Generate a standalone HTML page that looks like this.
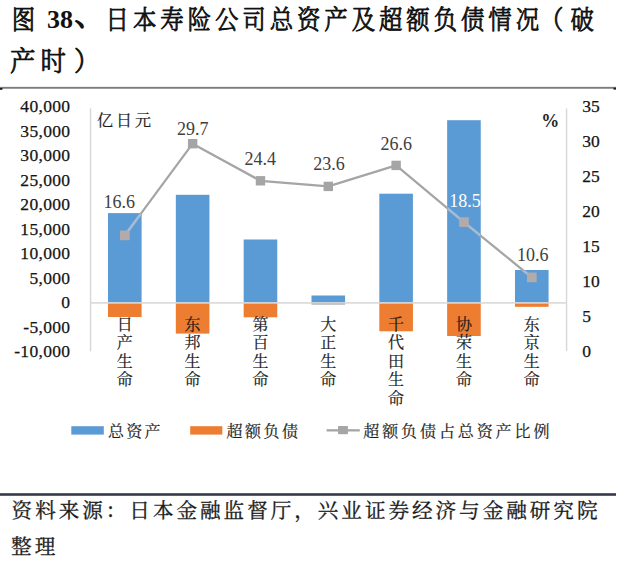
<!DOCTYPE html>
<html><head><meta charset="utf-8"><style>
html,body{margin:0;padding:0;background:#fff;}
body{width:640px;height:562px;overflow:hidden;position:relative;}
svg{position:absolute;left:0;top:0;}
</style></head><body>
<svg width="640" height="562" viewBox="0 0 640 562">
<text transform="translate(23.40,28.60) scale(0.9,1)" text-anchor="middle" font-size="26px" font-weight="300" fill="#111" stroke="#111" stroke-width="0.9" stroke-linejoin="round" style='font-family:"Liberation Serif","Noto Serif CJK SC",serif'>图</text>
<text transform="translate(117.30,28.60) scale(0.9,1)" text-anchor="middle" font-size="26px" font-weight="300" fill="#111" stroke="#111" stroke-width="0.9" stroke-linejoin="round" style='font-family:"Liberation Serif","Noto Serif CJK SC",serif'>日</text>
<text transform="translate(144.64,28.60) scale(0.9,1)" text-anchor="middle" font-size="26px" font-weight="300" fill="#111" stroke="#111" stroke-width="0.9" stroke-linejoin="round" style='font-family:"Liberation Serif","Noto Serif CJK SC",serif'>本</text>
<text transform="translate(171.98,28.60) scale(0.9,1)" text-anchor="middle" font-size="26px" font-weight="300" fill="#111" stroke="#111" stroke-width="0.9" stroke-linejoin="round" style='font-family:"Liberation Serif","Noto Serif CJK SC",serif'>寿</text>
<text transform="translate(199.32,28.60) scale(0.9,1)" text-anchor="middle" font-size="26px" font-weight="300" fill="#111" stroke="#111" stroke-width="0.9" stroke-linejoin="round" style='font-family:"Liberation Serif","Noto Serif CJK SC",serif'>险</text>
<text transform="translate(226.66,28.60) scale(0.9,1)" text-anchor="middle" font-size="26px" font-weight="300" fill="#111" stroke="#111" stroke-width="0.9" stroke-linejoin="round" style='font-family:"Liberation Serif","Noto Serif CJK SC",serif'>公</text>
<text transform="translate(254.00,28.60) scale(0.9,1)" text-anchor="middle" font-size="26px" font-weight="300" fill="#111" stroke="#111" stroke-width="0.9" stroke-linejoin="round" style='font-family:"Liberation Serif","Noto Serif CJK SC",serif'>司</text>
<text transform="translate(281.34,28.60) scale(0.9,1)" text-anchor="middle" font-size="26px" font-weight="300" fill="#111" stroke="#111" stroke-width="0.9" stroke-linejoin="round" style='font-family:"Liberation Serif","Noto Serif CJK SC",serif'>总</text>
<text transform="translate(308.68,28.60) scale(0.9,1)" text-anchor="middle" font-size="26px" font-weight="300" fill="#111" stroke="#111" stroke-width="0.9" stroke-linejoin="round" style='font-family:"Liberation Serif","Noto Serif CJK SC",serif'>资</text>
<text transform="translate(336.02,28.60) scale(0.9,1)" text-anchor="middle" font-size="26px" font-weight="300" fill="#111" stroke="#111" stroke-width="0.9" stroke-linejoin="round" style='font-family:"Liberation Serif","Noto Serif CJK SC",serif'>产</text>
<text transform="translate(363.36,28.60) scale(0.9,1)" text-anchor="middle" font-size="26px" font-weight="300" fill="#111" stroke="#111" stroke-width="0.9" stroke-linejoin="round" style='font-family:"Liberation Serif","Noto Serif CJK SC",serif'>及</text>
<text transform="translate(390.70,28.60) scale(0.9,1)" text-anchor="middle" font-size="26px" font-weight="300" fill="#111" stroke="#111" stroke-width="0.9" stroke-linejoin="round" style='font-family:"Liberation Serif","Noto Serif CJK SC",serif'>超</text>
<text transform="translate(418.04,28.60) scale(0.9,1)" text-anchor="middle" font-size="26px" font-weight="300" fill="#111" stroke="#111" stroke-width="0.9" stroke-linejoin="round" style='font-family:"Liberation Serif","Noto Serif CJK SC",serif'>额</text>
<text transform="translate(445.38,28.60) scale(0.9,1)" text-anchor="middle" font-size="26px" font-weight="300" fill="#111" stroke="#111" stroke-width="0.9" stroke-linejoin="round" style='font-family:"Liberation Serif","Noto Serif CJK SC",serif'>负</text>
<text transform="translate(472.72,28.60) scale(0.9,1)" text-anchor="middle" font-size="26px" font-weight="300" fill="#111" stroke="#111" stroke-width="0.9" stroke-linejoin="round" style='font-family:"Liberation Serif","Noto Serif CJK SC",serif'>债</text>
<text transform="translate(500.06,28.60) scale(0.9,1)" text-anchor="middle" font-size="26px" font-weight="300" fill="#111" stroke="#111" stroke-width="0.9" stroke-linejoin="round" style='font-family:"Liberation Serif","Noto Serif CJK SC",serif'>情</text>
<text transform="translate(527.40,28.60) scale(0.9,1)" text-anchor="middle" font-size="26px" font-weight="300" fill="#111" stroke="#111" stroke-width="0.9" stroke-linejoin="round" style='font-family:"Liberation Serif","Noto Serif CJK SC",serif'>况</text>
<text transform="translate(551.70,28.60) scale(0.9,1)" text-anchor="middle" font-size="26px" font-weight="300" fill="#111" stroke="#111" stroke-width="0.9" stroke-linejoin="round" style='font-family:"Liberation Serif","Noto Serif CJK SC",serif'>（</text>
<text transform="translate(582.08,28.60) scale(0.9,1)" text-anchor="middle" font-size="26px" font-weight="300" fill="#111" stroke="#111" stroke-width="0.9" stroke-linejoin="round" style='font-family:"Liberation Serif","Noto Serif CJK SC",serif'>破</text>
<text x="46.9" y="27.6" font-size="26px" font-weight="bold" fill="#111" style='font-family:"Liberation Serif",serif'>38</text>
<text transform="translate(89.60,24.70) scale(1.0,1)" text-anchor="middle" font-size="30px" font-weight="300" fill="#111" stroke="#111" stroke-width="1.4" stroke-linejoin="round" style='font-family:"Liberation Serif","Noto Serif CJK SC",serif'>、</text>
<text transform="translate(22.70,70.80) scale(0.95,1)" text-anchor="middle" font-size="26.8px" font-weight="300" fill="#111" stroke="#111" stroke-width="0.9" stroke-linejoin="round" style='font-family:"Liberation Serif","Noto Serif CJK SC",serif'>产</text>
<text transform="translate(53.30,70.80) scale(0.95,1)" text-anchor="middle" font-size="26.8px" font-weight="300" fill="#111" stroke="#111" stroke-width="0.9" stroke-linejoin="round" style='font-family:"Liberation Serif","Noto Serif CJK SC",serif'>时</text>
<text transform="translate(86.60,70.80) scale(0.95,1)" text-anchor="middle" font-size="26.8px" font-weight="300" fill="#111" stroke="#111" stroke-width="0.9" stroke-linejoin="round" style='font-family:"Liberation Serif","Noto Serif CJK SC",serif'>）</text>
<rect x="108.00" y="213.10" width="33.6" height="89.80" fill="#5B9BD5"/>
<rect x="108.00" y="302.9" width="33.6" height="14.10" fill="#ED7D31"/>
<rect x="175.83" y="194.80" width="33.6" height="108.10" fill="#5B9BD5"/>
<rect x="175.83" y="302.9" width="33.6" height="30.70" fill="#ED7D31"/>
<rect x="243.66" y="239.50" width="33.6" height="63.40" fill="#5B9BD5"/>
<rect x="243.66" y="302.9" width="33.6" height="14.40" fill="#ED7D31"/>
<rect x="311.49" y="295.50" width="33.6" height="7.40" fill="#5B9BD5"/>
<rect x="311.49" y="302.9" width="33.6" height="1.60" fill="#8E9399"/>
<rect x="379.32" y="193.70" width="33.6" height="109.20" fill="#5B9BD5"/>
<rect x="379.32" y="302.9" width="33.6" height="28.40" fill="#ED7D31"/>
<rect x="447.15" y="120.20" width="33.6" height="182.70" fill="#5B9BD5"/>
<rect x="447.15" y="302.9" width="33.6" height="33.10" fill="#ED7D31"/>
<rect x="514.98" y="270.00" width="33.6" height="32.90" fill="#5B9BD5"/>
<rect x="514.98" y="302.9" width="33.6" height="3.90" fill="#ED7D31"/>
<rect x="91" y="302.1" width="475.5" height="1.6" fill="#D9D9D9"/>
<rect x="89.8" y="108.4" width="1.5" height="243" fill="#D9D9D9"/>
<rect x="565.8" y="108.4" width="1.5" height="242.5" fill="#D9D9D9"/>
<polyline points="124.80,235.40 192.63,143.70 260.46,180.80 328.29,186.40 396.12,165.40 463.95,222.10 531.78,277.40" fill="none" stroke="#A5A5A5" stroke-width="2.25" stroke-linejoin="round"/>
<rect x="120.10" y="230.70" width="9.4" height="9.4" fill="#A5A5A5"/>
<rect x="187.93" y="139.00" width="9.4" height="9.4" fill="#A5A5A5"/>
<rect x="255.76" y="176.10" width="9.4" height="9.4" fill="#A5A5A5"/>
<rect x="323.59" y="181.70" width="9.4" height="9.4" fill="#A5A5A5"/>
<rect x="391.42" y="160.70" width="9.4" height="9.4" fill="#A5A5A5"/>
<rect x="459.25" y="217.40" width="9.4" height="9.4" fill="#A5A5A5"/>
<rect x="527.08" y="272.70" width="9.4" height="9.4" fill="#A5A5A5"/>
<clipPath id="bc"><rect x="108.60" y="213.70" width="32.40" height="88.60"/><rect x="176.43" y="195.40" width="32.40" height="106.90"/><rect x="244.26" y="240.10" width="32.40" height="62.20"/><rect x="312.09" y="296.10" width="32.40" height="6.20"/><rect x="379.92" y="194.30" width="32.40" height="108.00"/><rect x="447.75" y="120.80" width="32.40" height="181.50"/><rect x="515.58" y="270.60" width="32.40" height="31.70"/></clipPath>
<g clip-path="url(#bc)">
<polyline points="124.80,235.40 192.63,143.70 260.46,180.80 328.29,186.40 396.12,165.40 463.95,222.10 531.78,277.40" fill="none" stroke="#A6BCD2" stroke-width="2.5" stroke-linejoin="round"/>
<rect x="120.10" y="230.70" width="9.4" height="9.4" fill="#B2ABAC"/>
<rect x="187.93" y="139.00" width="9.4" height="9.4" fill="#B2ABAC"/>
<rect x="255.76" y="176.10" width="9.4" height="9.4" fill="#B2ABAC"/>
<rect x="323.59" y="181.70" width="9.4" height="9.4" fill="#B2ABAC"/>
<rect x="391.42" y="160.70" width="9.4" height="9.4" fill="#B2ABAC"/>
<rect x="459.25" y="217.40" width="9.4" height="9.4" fill="#B2ABAC"/>
<rect x="527.08" y="272.70" width="9.4" height="9.4" fill="#B2ABAC"/>
</g>
<text x="70.3" y="112.30" text-anchor="end" font-size="17.5px" letter-spacing="0.3" fill="#141414" stroke="#141414" stroke-width="0.25" style='font-family:"Liberation Serif",serif'>40,000</text>
<text x="70.3" y="136.77" text-anchor="end" font-size="17.5px" letter-spacing="0.3" fill="#141414" stroke="#141414" stroke-width="0.25" style='font-family:"Liberation Serif",serif'>35,000</text>
<text x="70.3" y="161.24" text-anchor="end" font-size="17.5px" letter-spacing="0.3" fill="#141414" stroke="#141414" stroke-width="0.25" style='font-family:"Liberation Serif",serif'>30,000</text>
<text x="70.3" y="185.71" text-anchor="end" font-size="17.5px" letter-spacing="0.3" fill="#141414" stroke="#141414" stroke-width="0.25" style='font-family:"Liberation Serif",serif'>25,000</text>
<text x="70.3" y="210.18" text-anchor="end" font-size="17.5px" letter-spacing="0.3" fill="#141414" stroke="#141414" stroke-width="0.25" style='font-family:"Liberation Serif",serif'>20,000</text>
<text x="70.3" y="234.65" text-anchor="end" font-size="17.5px" letter-spacing="0.3" fill="#141414" stroke="#141414" stroke-width="0.25" style='font-family:"Liberation Serif",serif'>15,000</text>
<text x="70.3" y="259.12" text-anchor="end" font-size="17.5px" letter-spacing="0.3" fill="#141414" stroke="#141414" stroke-width="0.25" style='font-family:"Liberation Serif",serif'>10,000</text>
<text x="70.3" y="283.59" text-anchor="end" font-size="17.5px" letter-spacing="0.3" fill="#141414" stroke="#141414" stroke-width="0.25" style='font-family:"Liberation Serif",serif'>5,000</text>
<text x="70.3" y="308.06" text-anchor="end" font-size="17.5px" letter-spacing="0.3" fill="#141414" stroke="#141414" stroke-width="0.25" style='font-family:"Liberation Serif",serif'>0</text>
<text x="70.3" y="332.53" text-anchor="end" font-size="17.5px" letter-spacing="0.3" fill="#141414" stroke="#141414" stroke-width="0.25" style='font-family:"Liberation Serif",serif'>-5,000</text>
<text x="70.3" y="357.00" text-anchor="end" font-size="17.5px" letter-spacing="0.3" fill="#141414" stroke="#141414" stroke-width="0.25" style='font-family:"Liberation Serif",serif'>-10,000</text>
<text x="582.2" y="112.40" font-size="17.5px" fill="#141414" stroke="#141414" stroke-width="0.25" style='font-family:"Liberation Serif",serif'>35</text>
<text x="582.2" y="147.40" font-size="17.5px" fill="#141414" stroke="#141414" stroke-width="0.25" style='font-family:"Liberation Serif",serif'>30</text>
<text x="582.2" y="182.40" font-size="17.5px" fill="#141414" stroke="#141414" stroke-width="0.25" style='font-family:"Liberation Serif",serif'>25</text>
<text x="582.2" y="217.40" font-size="17.5px" fill="#141414" stroke="#141414" stroke-width="0.25" style='font-family:"Liberation Serif",serif'>20</text>
<text x="582.2" y="252.40" font-size="17.5px" fill="#141414" stroke="#141414" stroke-width="0.25" style='font-family:"Liberation Serif",serif'>15</text>
<text x="582.2" y="287.40" font-size="17.5px" fill="#141414" stroke="#141414" stroke-width="0.25" style='font-family:"Liberation Serif",serif'>10</text>
<text x="582.2" y="322.40" font-size="17.5px" fill="#141414" stroke="#141414" stroke-width="0.25" style='font-family:"Liberation Serif",serif'>5</text>
<text x="582.2" y="357.40" font-size="17.5px" fill="#141414" stroke="#141414" stroke-width="0.25" style='font-family:"Liberation Serif",serif'>0</text>
<text x="103.40" y="207.80" font-size="18px" fill="#404040" style='font-family:"Liberation Serif",serif'>16.6</text>
<text x="176.90" y="134.60" font-size="18px" fill="#404040" style='font-family:"Liberation Serif",serif'>29.7</text>
<text x="244.60" y="164.60" font-size="18px" fill="#404040" style='font-family:"Liberation Serif",serif'>24.4</text>
<text x="313.30" y="170.40" font-size="18px" fill="#404040" style='font-family:"Liberation Serif",serif'>23.6</text>
<text x="380.40" y="149.90" font-size="18px" fill="#404040" style='font-family:"Liberation Serif",serif'>26.6</text>
<text x="449.30" y="206.70" font-size="18px" fill="#FFFFFF" style='font-family:"Liberation Serif",serif'>18.5</text>
<text x="517.10" y="261.40" font-size="18px" fill="#404040" style='font-family:"Liberation Serif",serif'>10.6</text>
<text x="124.80" y="330.00" text-anchor="middle" font-size="16px" fill="#1a1a1a" stroke="#1a1a1a" stroke-width="0.2" style='font-family:"Liberation Serif","Noto Serif CJK SC",serif'>日</text>
<text x="124.80" y="348.40" text-anchor="middle" font-size="16px" fill="#1a1a1a" stroke="#1a1a1a" stroke-width="0.2" style='font-family:"Liberation Serif","Noto Serif CJK SC",serif'>产</text>
<text x="124.80" y="366.80" text-anchor="middle" font-size="16px" fill="#1a1a1a" stroke="#1a1a1a" stroke-width="0.2" style='font-family:"Liberation Serif","Noto Serif CJK SC",serif'>生</text>
<text x="124.80" y="385.20" text-anchor="middle" font-size="16px" fill="#1a1a1a" stroke="#1a1a1a" stroke-width="0.2" style='font-family:"Liberation Serif","Noto Serif CJK SC",serif'>命</text>
<text x="192.63" y="330.00" text-anchor="middle" font-size="16px" fill="#1a1a1a" stroke="#1a1a1a" stroke-width="0.2" style='font-family:"Liberation Serif","Noto Serif CJK SC",serif'>东</text>
<text x="192.63" y="348.40" text-anchor="middle" font-size="16px" fill="#1a1a1a" stroke="#1a1a1a" stroke-width="0.2" style='font-family:"Liberation Serif","Noto Serif CJK SC",serif'>邦</text>
<text x="192.63" y="366.80" text-anchor="middle" font-size="16px" fill="#1a1a1a" stroke="#1a1a1a" stroke-width="0.2" style='font-family:"Liberation Serif","Noto Serif CJK SC",serif'>生</text>
<text x="192.63" y="385.20" text-anchor="middle" font-size="16px" fill="#1a1a1a" stroke="#1a1a1a" stroke-width="0.2" style='font-family:"Liberation Serif","Noto Serif CJK SC",serif'>命</text>
<text x="260.46" y="330.00" text-anchor="middle" font-size="16px" fill="#1a1a1a" stroke="#1a1a1a" stroke-width="0.2" style='font-family:"Liberation Serif","Noto Serif CJK SC",serif'>第</text>
<text x="260.46" y="348.40" text-anchor="middle" font-size="16px" fill="#1a1a1a" stroke="#1a1a1a" stroke-width="0.2" style='font-family:"Liberation Serif","Noto Serif CJK SC",serif'>百</text>
<text x="260.46" y="366.80" text-anchor="middle" font-size="16px" fill="#1a1a1a" stroke="#1a1a1a" stroke-width="0.2" style='font-family:"Liberation Serif","Noto Serif CJK SC",serif'>生</text>
<text x="260.46" y="385.20" text-anchor="middle" font-size="16px" fill="#1a1a1a" stroke="#1a1a1a" stroke-width="0.2" style='font-family:"Liberation Serif","Noto Serif CJK SC",serif'>命</text>
<text x="328.29" y="330.00" text-anchor="middle" font-size="16px" fill="#1a1a1a" stroke="#1a1a1a" stroke-width="0.2" style='font-family:"Liberation Serif","Noto Serif CJK SC",serif'>大</text>
<text x="328.29" y="348.40" text-anchor="middle" font-size="16px" fill="#1a1a1a" stroke="#1a1a1a" stroke-width="0.2" style='font-family:"Liberation Serif","Noto Serif CJK SC",serif'>正</text>
<text x="328.29" y="366.80" text-anchor="middle" font-size="16px" fill="#1a1a1a" stroke="#1a1a1a" stroke-width="0.2" style='font-family:"Liberation Serif","Noto Serif CJK SC",serif'>生</text>
<text x="328.29" y="385.20" text-anchor="middle" font-size="16px" fill="#1a1a1a" stroke="#1a1a1a" stroke-width="0.2" style='font-family:"Liberation Serif","Noto Serif CJK SC",serif'>命</text>
<text x="396.12" y="330.00" text-anchor="middle" font-size="16px" fill="#1a1a1a" stroke="#1a1a1a" stroke-width="0.2" style='font-family:"Liberation Serif","Noto Serif CJK SC",serif'>千</text>
<text x="396.12" y="348.40" text-anchor="middle" font-size="16px" fill="#1a1a1a" stroke="#1a1a1a" stroke-width="0.2" style='font-family:"Liberation Serif","Noto Serif CJK SC",serif'>代</text>
<text x="396.12" y="366.80" text-anchor="middle" font-size="16px" fill="#1a1a1a" stroke="#1a1a1a" stroke-width="0.2" style='font-family:"Liberation Serif","Noto Serif CJK SC",serif'>田</text>
<text x="396.12" y="385.20" text-anchor="middle" font-size="16px" fill="#1a1a1a" stroke="#1a1a1a" stroke-width="0.2" style='font-family:"Liberation Serif","Noto Serif CJK SC",serif'>生</text>
<text x="396.12" y="403.60" text-anchor="middle" font-size="16px" fill="#1a1a1a" stroke="#1a1a1a" stroke-width="0.2" style='font-family:"Liberation Serif","Noto Serif CJK SC",serif'>命</text>
<text x="463.95" y="330.00" text-anchor="middle" font-size="16px" fill="#1a1a1a" stroke="#1a1a1a" stroke-width="0.2" style='font-family:"Liberation Serif","Noto Serif CJK SC",serif'>协</text>
<text x="463.95" y="348.40" text-anchor="middle" font-size="16px" fill="#1a1a1a" stroke="#1a1a1a" stroke-width="0.2" style='font-family:"Liberation Serif","Noto Serif CJK SC",serif'>荣</text>
<text x="463.95" y="366.80" text-anchor="middle" font-size="16px" fill="#1a1a1a" stroke="#1a1a1a" stroke-width="0.2" style='font-family:"Liberation Serif","Noto Serif CJK SC",serif'>生</text>
<text x="463.95" y="385.20" text-anchor="middle" font-size="16px" fill="#1a1a1a" stroke="#1a1a1a" stroke-width="0.2" style='font-family:"Liberation Serif","Noto Serif CJK SC",serif'>命</text>
<text x="531.78" y="330.00" text-anchor="middle" font-size="16px" fill="#1a1a1a" stroke="#1a1a1a" stroke-width="0.2" style='font-family:"Liberation Serif","Noto Serif CJK SC",serif'>东</text>
<text x="531.78" y="348.40" text-anchor="middle" font-size="16px" fill="#1a1a1a" stroke="#1a1a1a" stroke-width="0.2" style='font-family:"Liberation Serif","Noto Serif CJK SC",serif'>京</text>
<text x="531.78" y="366.80" text-anchor="middle" font-size="16px" fill="#1a1a1a" stroke="#1a1a1a" stroke-width="0.2" style='font-family:"Liberation Serif","Noto Serif CJK SC",serif'>生</text>
<text x="531.78" y="385.20" text-anchor="middle" font-size="16px" fill="#1a1a1a" stroke="#1a1a1a" stroke-width="0.2" style='font-family:"Liberation Serif","Noto Serif CJK SC",serif'>命</text>
<text x="97" y="126" font-size="16px" letter-spacing="3" fill="#1a1a1a" stroke="#1a1a1a" stroke-width="0.2" style='font-family:"Liberation Serif","Noto Serif CJK SC",serif'>亿日元</text>
<text x="541.2" y="127.2" font-size="18px" font-weight="bold" fill="#262626" style='font-family:"Liberation Serif",serif'>%</text>
<rect x="0" y="86.85" width="616" height="1.9" fill="#7d7d7d"/>
<rect x="0" y="88" width="2.4" height="1.8" fill="#1a1a1a"/>
<rect x="613.5" y="87.7" width="2.5" height="1.9" fill="#1a1a1a"/>
<rect x="71.3" y="426.2" width="32.5" height="8.4" fill="#5B9BD5"/>
<rect x="190.2" y="426.2" width="32.1" height="8.4" fill="#ED7D31"/>
<rect x="326.6" y="429.2" width="33.2" height="2.3" fill="#A5A5A5"/>
<rect x="338.1" y="426" width="9.8" height="8.2" fill="#A5A5A5"/>
<text x="108" y="437" font-size="16px" letter-spacing="2.2" fill="#1f1f1f" stroke="#1f1f1f" stroke-width="0.2" style='font-family:"Liberation Serif","Noto Serif CJK SC",serif'>总资产</text>
<text x="226.5" y="437" font-size="16px" letter-spacing="2.5" fill="#1f1f1f" stroke="#1f1f1f" stroke-width="0.2" style='font-family:"Liberation Serif","Noto Serif CJK SC",serif'>超额负债</text>
<text x="363.3" y="437" font-size="16px" letter-spacing="2.9" fill="#1f1f1f" stroke="#1f1f1f" stroke-width="0.2" style='font-family:"Liberation Serif","Noto Serif CJK SC",serif'>超额负债占总资产比例</text>
<rect x="0" y="493.2" width="616" height="2.6" fill="#363a48"/>
<text x="11.6" y="518.3" font-size="20.6px" letter-spacing="2.96" fill="#1a1a1a" stroke="#1a1a1a" stroke-width="0.3" style='font-family:"Liberation Serif","Noto Serif CJK SC",serif'>资料来源：日本金融监督厅，兴业证券经济与金融研究院</text>
<text x="11.1" y="553.6" font-size="20.6px" letter-spacing="2.96" fill="#1a1a1a" stroke="#1a1a1a" stroke-width="0.3" style='font-family:"Liberation Serif","Noto Serif CJK SC",serif'>整理</text>
</svg>
</body></html>
